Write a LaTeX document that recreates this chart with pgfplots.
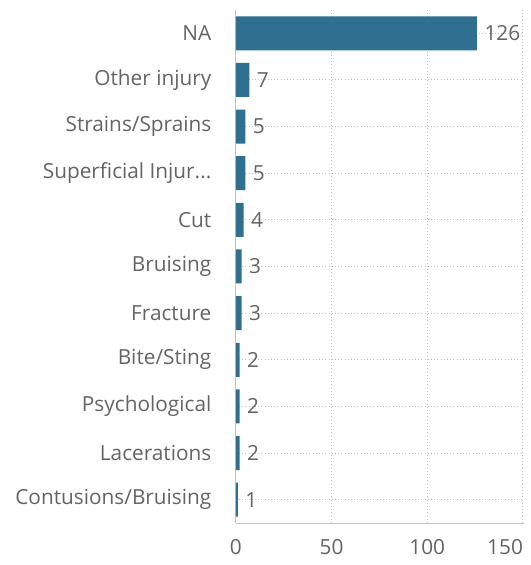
\documentclass[border=0pt]{standalone}
\usepackage{pgfplots}
\pgfplotsset{compat=1.18}
\usepackage{fontspec}
\setmainfont{Open Sans}
\definecolor{barc}{RGB}{47,111,143}
\definecolor{txt}{RGB}{100,100,100}
\definecolor{gridc}{RGB}{195,195,195}
\begin{document}
\begin{tikzpicture}
\begin{axis}[
  width=288pt, height=513pt, scale only axis,
  xbar, bar width=34pt,
  xmin=0, xmax=150.5,
  ymin=-0.5, ymax=10.5,
  ytick={0,1,2,3,4,5,6,7,8,9,10},
  yticklabels={Contusions/Bruising,Lacerations,Psychological,Bite/Sting,Fracture,Bruising,Cut,{Superficial Injur{.}{.}{.}},Strains/Sprains,Other injury,NA},
  xtick={0,50,100,150},
  xticklabels={0,50,100,\makebox[0pt][r]{150}},
  /pgf/number format/assume math mode=true,
  ticklabel style={font=\fontsize{20.8}{24}\selectfont, text=txt},
  yticklabel style={xshift=-21pt},
  xticklabel style={yshift=-13pt},
  major tick length=0pt,
  axis x line*=bottom, axis y line*=left,
  axis line style={gridc, line width=0.8pt, -},
  xmajorgrids, ymajorgrids,
  major grid style={gridc, line width=1pt, dash pattern=on 1pt off 2.2pt},
  nodes near coords,
  nodes near coords style={font=\fontsize{20.8}{24}\selectfont, text=txt, xshift=4pt},
  point meta=x,
  clip=false,
]
\addplot[fill=barc, draw=none] coordinates {
(1,0) (2,1) (2,2) (2,3) (3,4) (3,5) (4,6) (5,7) (5,8) (7,9) (126,10)
};
\path (axis description cs:-0.819,-0.0819) rectangle (axis description cs:1.024,1.0195);
\end{axis}
\end{tikzpicture}
\end{document}
